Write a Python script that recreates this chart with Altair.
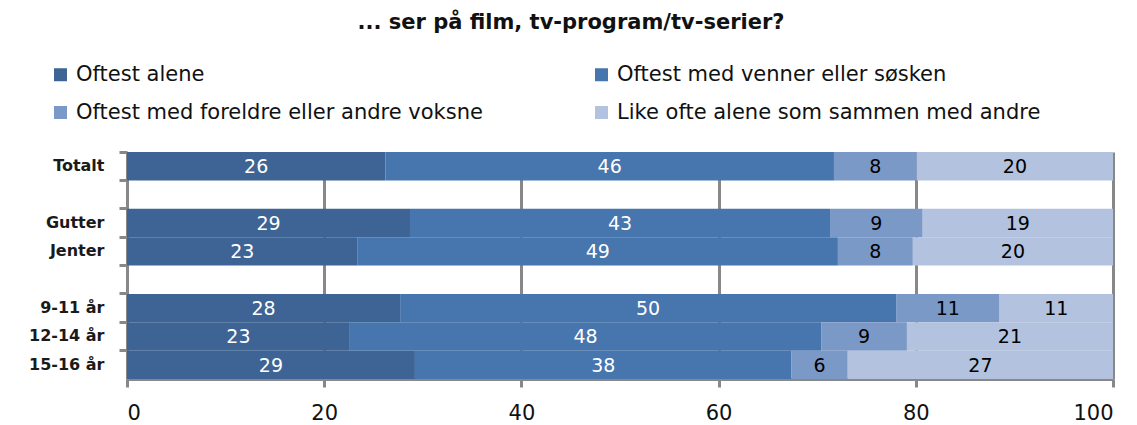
import altair as alt
import pandas as pd

groups = ["Totalt", "Gutter", "Jenter", "9-11 år", "12-14 år", "15-16 år"]
row_order = ["Totalt", " ", "Gutter", "Jenter", "  ", "9-11 år", "12-14 år", "15-16 år"]
series = [
    "Oftest alene",
    "Oftest med venner eller søsken",
    "Oftest med foreldre eller andre voksne",
    "Like ofte alene som sammen med andre",
]
# legend is filled column by column: put the entries in reading order
legend_order = [series[0], series[2], series[1], series[3]]
alene = [26.2, 28.7, 23.4, 27.7, 22.6, 29.2]
venner = [45.5, 42.6, 48.7, 50.3, 47.8, 38.2]
foreldre = [8.4, 9.4, 7.6, 10.5, 8.7, 5.7]
like_ofte = [19.9, 19.3, 20.3, 11.5, 20.9, 26.9]
labels = [
    [26, 29, 23, 28, 23, 29],
    [46, 43, 49, 50, 48, 38],
    [8, 9, 8, 11, 9, 6],
    [20, 19, 20, 11, 21, 27],
]
colors = ["#3D6494", "#4775AD", "#7B99C7", "#B3C2DE"]
text_colors = ["white", "white", "black", "black"]
color_map = dict(zip(series, colors))

rows = []
for gi, g in enumerate(groups):
    start = 0.0
    for si, vals in enumerate([alene, venner, foreldre, like_ofte]):
        v = vals[gi]
        rows.append({
            "group": g, "series": series[si], "order": si,
            "start": start, "end": start + v, "mid": start + v / 2,
            "label": str(labels[si][gi]), "tcolor": text_colors[si],
        })
        start += v
df = pd.DataFrame(rows)

y_enc = alt.Y("group:N", sort=row_order,
              scale=alt.Scale(domain=row_order, paddingInner=0, paddingOuter=0),
              axis=alt.Axis(title=None, labelFont="DejaVu Sans", labelFontSize=16,
                            labelFontWeight="bold",
                            labelColor="#1a1a1a", labelPadding=15,
                            domainColor="#888888", domainWidth=3,
                            tickColor="#888888", tickWidth=3, tickSize=8,
                            bandPosition=0, grid=False))

bars = alt.Chart(df).mark_bar().encode(
    x=alt.X("start:Q", scale=alt.Scale(domain=[0, 100], nice=False),
            axis=alt.Axis(title=None, values=[0, 20, 40, 60, 80, 100],
                          labelFont="DejaVu Sans", labelFontSize=21,
                          labelColor="#111", labelPadding=15,
                          grid=True, gridColor="#888888", gridWidth=3,
                          domainColor="#888888", domainWidth=3,
                          tickColor="#888888", tickWidth=3, tickSize=8)),
    x2="end:Q",
    y=y_enc,
    color=alt.Color("series:N",
                    scale=alt.Scale(domain=legend_order,
                                    range=[color_map[s] for s in legend_order]),
                    legend=alt.Legend(title=None, orient="none", legendX=-77, legendY=-88,
                                      columns=2, columnPadding=108, rowPadding=16,
                                      symbolType="square", symbolSize=169,
                                      symbolStrokeWidth=0,
                                      labelFont="DejaVu Sans", labelFontSize=21,
                                      labelColor="#111", labelLimit=700, labelOffset=5)),
    order="order:Q",
)

text = alt.Chart(df).mark_text(font="DejaVu Sans", fontSize=19, baseline="middle", dy=1).encode(
    x="mid:Q",
    y=alt.Y("group:N", sort=row_order),
    text="label:N",
    color=alt.Color("tcolor:N", scale=None),
)

chart = alt.layer(bars, text).properties(
    width=986, height=227,
    title=alt.Title("... ser på film, tv-program/tv-serier?", font="DejaVu Sans",
                    fontSize=21, fontWeight="bold", color="#111", anchor="middle",
                    dx=-49, offset=31),
    autosize=alt.AutoSizeParams(type="none"),
    padding={"left": 119, "top": 144, "right": 10, "bottom": 48},
).configure_view(stroke=None)

chart.save("out.html", embed_options={"renderer": "svg", "actions": False})
